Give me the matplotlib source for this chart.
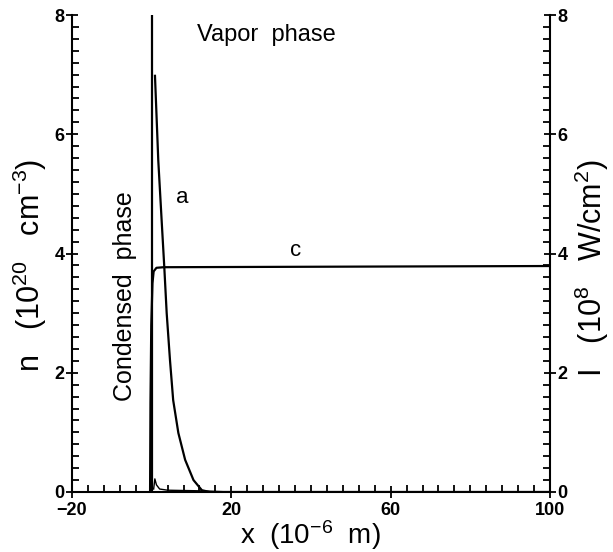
import numpy as np
import matplotlib
matplotlib.use("Agg")
import matplotlib.pyplot as plt
from matplotlib.ticker import MultipleLocator, FixedLocator

plt.rcParams['font.family'] = ['Liberation Sans', 'DejaVu Sans']
plt.rcParams['mathtext.fontset'] = 'custom'
plt.rcParams['mathtext.rm'] = 'Liberation Sans'
plt.rcParams['mathtext.it'] = 'Liberation Sans'

# ---- data ----
# curve a: particle density n (left axis, 1e20 cm^-3)
a_x = [0.83, 1.66, 2.5, 3.17, 3.77, 4.6, 5.4, 6.7, 8.4, 10.5, 12.6, 14.6, 100.0]
a_y = [6.98, 5.56, 4.56, 3.77, 3.0, 2.21, 1.54, 0.99, 0.54, 0.2, 0.03, 0.0, 0.0]
# curve c: laser intensity I (right axis, 1e8 W/cm^2)
c_x = [-0.4, -0.3, -0.1, 0.2, 0.5, 1.2, 3.0, 100.0]
c_y = [0.0, 1.5, 2.8, 3.5, 3.7, 3.76, 3.77, 3.79]
# small curve near the surface
b_x = [0.5, 0.8, 1.2, 2.0, 4.0, 12.0, 20.0]
b_y = [0.05, 0.22, 0.12, 0.05, 0.03, 0.02, 0.0]
# surface (condensed / vapor boundary)
surface_x = 0.0

x_major = [-20, 20, 60, 100]
x_labels = ['\u221220', '20', '60', '100']
y_major = [0, 2, 4, 6, 8]
y_labels = ['0', '2', '4', '6', '8']

W, H = 613, 552
L, R, B, T = 72, 550, 492, 15
fig = plt.figure(figsize=(W/100, H/100), dpi=100)
ax = fig.add_axes([L/W, 1-B/H, (R-L)/W, (B-T)/H])
ax2 = ax.twinx()

lw = 1.6
ax.axvline(surface_x, color='black', lw=lw)
ax.plot(a_x, a_y, color='black', lw=lw)
ax.plot(b_x, b_y, color='black', lw=1.0)
ax2.plot(c_x, c_y, color='black', lw=lw)

for a in (ax, ax2):
    a.set_xlim(-20, 100)
    a.set_ylim(0, 8)
    a.spines['top'].set_visible(False)
    for s in a.spines.values():
        s.set_linewidth(1.5)

ax.spines['right'].set_visible(False)
ax2.spines['left'].set_visible(False)
ax2.spines['bottom'].set_visible(False)

ax.xaxis.set_major_locator(FixedLocator(x_major))
ax.set_xticklabels(x_labels)
ax.xaxis.set_minor_locator(MultipleLocator(4))
ax.yaxis.set_major_locator(FixedLocator(y_major))
ax.set_yticklabels(y_labels)
ax.yaxis.set_minor_locator(MultipleLocator(0.2))
ax2.yaxis.set_major_locator(FixedLocator(y_major))
ax2.set_yticklabels(y_labels)
ax2.yaxis.set_minor_locator(MultipleLocator(0.2))

ax.tick_params(axis='both', which='major', direction='inout', length=9, width=1.3,
               labelsize=13, pad=1)
ax.tick_params(axis='x', which='major', pad=3)
ax.tick_params(axis='both', which='minor', direction='in', length=5, width=1.3)
ax.tick_params(axis='x', which='both', top=False)
ax2.tick_params(axis='y', which='major', direction='inout', length=9, width=1.3,
                labelsize=13, pad=1)
ax2.tick_params(axis='y', which='minor', direction='in', length=5, width=1.3)
for lab in ax.get_xticklabels() + ax.get_yticklabels() + ax2.get_yticklabels():
    lab.set_fontweight('bold')

ax.set_xlabel('x  (10$^{-6}$  m)', fontsize=20)
ax.xaxis.set_label_coords((310-L)/(R-L), (B-535)/(B-T))
ax.xaxis.label.set_verticalalignment('center')

ax.set_ylabel('n   (10$^{20}$   cm$^{-3}$)', fontsize=22)
ax.yaxis.set_label_coords((30-L)/(R-L), (B-265)/(B-T))
ax.yaxis.label.set_verticalalignment('center')

ax2.set_ylabel('I   (10$^{8}$   W/cm$^{2}$)', fontsize=22)
ax2.yaxis.set_label_coords((592-L)/(R-L), (B-268)/(B-T))
ax2.yaxis.label.set_verticalalignment('center')

ax.text(28.75, 7.66, 'Vapor  phase', fontsize=17, ha='center', va='center')
ax.text(-6.75, 3.29, 'Condensed  phase', fontsize=18, rotation=90,
        ha='center', va='center')
ax.text(7.75, 4.94, 'a', fontsize=16, ha='center', va='center')
ax.text(36.25, 4.05, 'c', fontsize=16, ha='center', va='center')

fig.savefig('out.png', dpi=100)
